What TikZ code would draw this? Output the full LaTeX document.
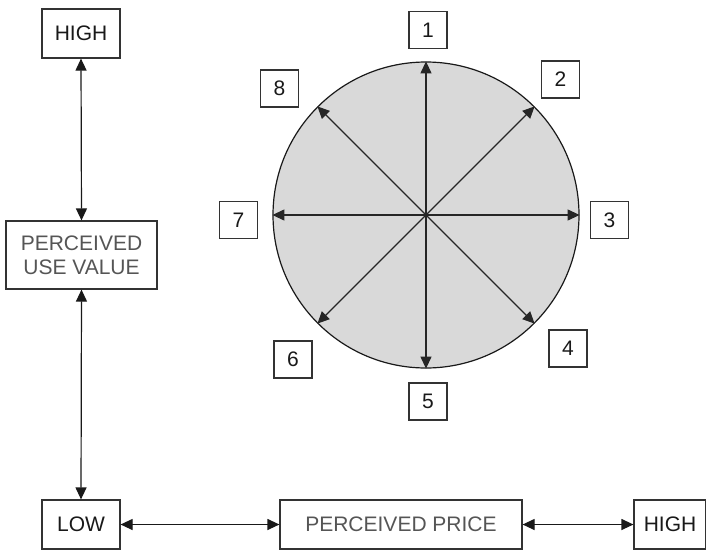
\documentclass[tikz,border=0pt]{standalone}
\usepackage{fontspec}
\setmainfont{Liberation Sans}
\usetikzlibrary{arrows.meta}
\definecolor{boxline}{HTML}{333333}
\definecolor{labelgray}{HTML}{555555}
\definecolor{discfill}{HTML}{D9D9D9}
\begin{document}
\begin{tikzpicture}[x=1pt,y=-1pt,
  every node/.style={font=\fontsize{21}{24}\selectfont},
  endbox/.style={draw=boxline,line width=1.2pt,minimum width=78pt,minimum height=49pt,inner sep=0pt,text=black!90},
  axisbox/.style={draw=boxline,line width=1.2pt,inner sep=0pt,align=center,text=labelgray},
  numbox/.style={draw=boxline,line width=1.2pt,minimum width=38pt,minimum height=37pt,inner sep=0pt,text=black!90},
  dbl/.style={{Triangle[length=12pt,width=11pt]}-{Triangle[length=12pt,width=11pt]},line width=1.2pt,draw=black!90},
  ray/.style={-{Triangle[length=12pt,width=11pt]},line width=1.2pt,draw=black!85}]
\useasboundingbox (0,0) rectangle (706,549);

% value axis
\node[endbox] (vhigh) at (81,33.5) {HIGH};
\node[axisbox,minimum width=151pt,minimum height=68pt] (puv) at (81.5,255) {PERCEIVED\\USE VALUE};
\node[endbox] (low) at (81,524.5) {LOW};

% price axis
\node[axisbox,minimum width=242pt,minimum height=49pt] (pp) at (401,524.5) {PERCEIVED PRICE};
\node[endbox,minimum width=72pt] (phigh) at (670,524.5) {HIGH};

\draw[dbl] (vhigh.south) -- (puv.north);
\draw[dbl] (puv.south) -- (low.north);
\draw[dbl] (low.east) -- (pp.west);
\draw[dbl] (pp.east) -- (phigh.west);

% disc with eight directions
\node[circle,draw=black!90,line width=1.2pt,fill=discfill,minimum size=306pt,inner sep=0pt] (disc) at (426,215) {};
\coordinate (o) at (disc.center);
\foreach \a in {0,45,...,315} {
  \draw[ray] (o) -- (disc.\a);
}

\node[numbox] (n1) at (428,30) {1};
\node[numbox] (n2) at (560.5,79.5) {2};
\node[numbox] (n3) at (609.5,220) {3};
\node[numbox] (n4) at (568,348.5) {4};
\node[numbox] (n5) at (428,401.5) {5};
\node[numbox] (n6) at (293,359.5) {6};
\node[numbox] (n7) at (238.5,220) {7};
\node[numbox] (n8) at (279.5,88.5) {8};
\end{tikzpicture}
\end{document}
